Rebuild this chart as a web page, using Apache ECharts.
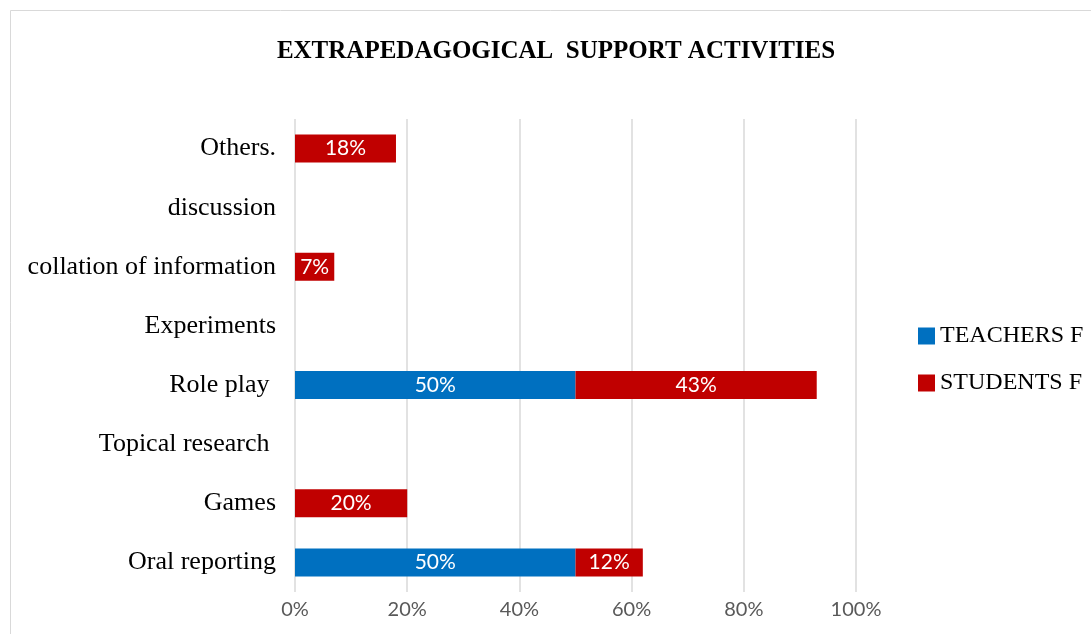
<!DOCTYPE html>
<html>
<head>
<meta charset="utf-8">
<style>
  html, body { margin: 0; padding: 0; background: #ffffff; }
  #chart { width: 1091px; height: 634px; }
</style>
<script src="https://cdn.jsdelivr.net/npm/echarts@6/dist/echarts.min.js"></script>
</head>
<body>
<div id="chart"></div>
<script>
// Activities, listed from the bottom row of the chart to the top row
const categories = [
  'Oral reporting',
  'Games',
  'Topical research ',
  'Role play ',
  'Experiments',
  'collation of information',
  'discussion',
  'Others.'
];

// Percentages per group (null = no bar)
const teachersF = [50, null, null, 50, null, null, null, null];
const studentsF = [12, 20, null, 43, null, 7, null, 18];

const xTicks = [0, 20, 40, 60, 80, 100];

const chart = echarts.init(document.getElementById('chart'), null, { renderer: 'canvas' });

const barLabel = {
  show: true,
  position: 'inside',
  color: '#ffffff',
  fontFamily: 'Lato',
  fontSize: 21,
  formatter: p => p.value + '%'
};

chart.setOption({
  backgroundColor: '#ffffff',
  animation: false,
  graphic: [
    { type: 'line', shape: { x1: 10.5, y1: 10.5, x2: 1091, y2: 10.5 }, style: { stroke: '#d9d9d9', lineWidth: 1 } },
    { type: 'line', shape: { x1: 10.5, y1: 10.5, x2: 10.5, y2: 634 }, style: { stroke: '#d9d9d9', lineWidth: 1 } },
    {
      type: 'text',
      x: 556,
      y: 52,
      style: {
        text: 'EXTRAPEDAGOGICAL  SUPPORT ACTIVITIES',
        fontFamily: 'Liberation Serif',
        fontWeight: 'bold',
        fontSize: 25,
        fill: '#000000',
        textAlign: 'center',
        textVerticalAlign: 'middle'
      }
    }
  ],
  legend: {
    orient: 'vertical',
    left: 918,
    top: 324,
    padding: 0,
    itemWidth: 17,
    itemHeight: 17,
    itemGap: 23,
    icon: 'rect',
    textStyle: { fontFamily: 'Liberation Serif', fontSize: 24, color: '#000000' },
    data: ['TEACHERS F', 'STUDENTS F']
  },
  grid: { left: 295, right: 235, top: 119, bottom: 42 },
  xAxis: {
    type: 'value',
    min: xTicks[0],
    max: xTicks[xTicks.length - 1],
    interval: xTicks[1] - xTicks[0],
    axisLine: { show: false },
    axisTick: { show: false },
    splitLine: { show: true, lineStyle: { color: '#d9d9d9', width: 1.5 } },
    axisLabel: {
      formatter: '{value}%',
      color: '#595959',
      fontFamily: 'Lato',
      fontSize: 20,
      margin: 8
    }
  },
  yAxis: {
    type: 'category',
    data: categories,
    axisLine: { show: false },
    axisTick: { show: false },
    splitLine: { show: false },
    axisLabel: {
      color: '#000000',
      fontFamily: 'Liberation Serif',
      fontSize: 26,
      margin: 19
    }
  },
  series: [
    {
      name: 'TEACHERS F',
      type: 'bar',
      stack: 'total',
      data: teachersF,
      barWidth: 28,
      itemStyle: { color: '#0070C0' },
      label: barLabel
    },
    {
      name: 'STUDENTS F',
      type: 'bar',
      stack: 'total',
      data: studentsF,
      barWidth: 28,
      itemStyle: { color: '#C00000' },
      label: barLabel
    }
  ]
});
</script>
</body>
</html>
